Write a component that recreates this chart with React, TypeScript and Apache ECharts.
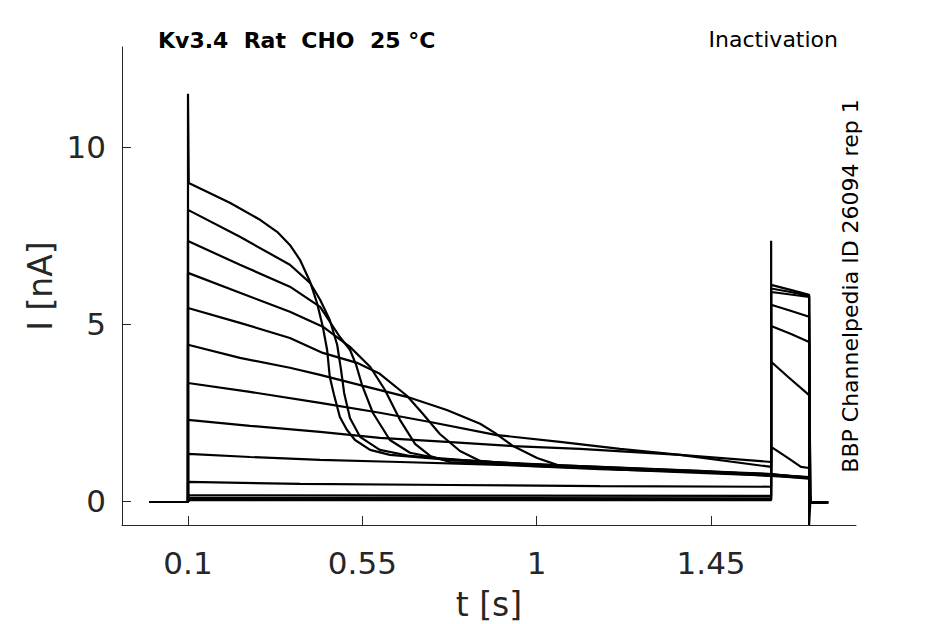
import { useEffect, useRef } from 'react';
import * as echarts from 'echarts';

// axis extents (s, nA) and tick positions
const X_MIN = -0.0703;
const X_MAX = 1.824;
const Y_MIN = -0.68;
const Y_MAX = 12.82;
const xTicks = [0.1, 0.55, 1, 1.45];
const yTicks = [0, 5, 10];

// protocol times (s)
const SWEEP_START = 0;
const PRE_ON = 0.1;
const TEST_ON = 1.605;
const TEST_OFF = 1.703;
const SWEEP_END = 1.752;
const baseBefore = -0.03;
const baseAfter = -0.04;

// prepulse currents, one list of [t, I] per sweep
const pre1 = [[0.102, 8.98], [0.208, 8.42], [0.286, 7.94], [0.33, 7.6], [0.363, 7.23], [0.389, 6.81], [0.415, 6.19], [0.433, 5.59], [0.448, 4.92], [0.459, 4.27], [0.466, 3.5], [0.477, 2.99], [0.492, 2.37], [0.51, 2.01], [0.531, 1.72], [0.57, 1.44], [0.621, 1.3], [0.776, 1.16], [1.034, 1.02], [1.292, 0.9], [1.605, 0.76]];
const pre2 = [[0.1, 8.22], [0.234, 7.46], [0.363, 6.67], [0.415, 6.16], [0.441, 5.68], [0.466, 5.11], [0.485, 4.41], [0.495, 3.7], [0.503, 3.05], [0.518, 2.34], [0.544, 1.81], [0.595, 1.44], [0.673, 1.27], [0.905, 1.07], [1.163, 0.96], [1.421, 0.85], [1.605, 0.73]];
const pre3 = [[0.1, 7.34], [0.234, 6.67], [0.363, 6.05], [0.441, 5.48], [0.492, 4.63], [0.518, 4.27], [0.534, 3.84], [0.549, 3.28], [0.577, 2.49], [0.621, 1.72], [0.673, 1.36], [0.75, 1.19], [0.957, 1.05], [1.215, 0.9], [1.421, 0.82], [1.605, 0.71]];
const pre4 = [[0.1, 6.44], [0.234, 5.88], [0.363, 5.34], [0.448, 4.92], [0.518, 4.35], [0.57, 3.79], [0.608, 3.14], [0.647, 2.29], [0.686, 1.61], [0.725, 1.27], [0.776, 1.1], [1.008, 0.99], [1.318, 0.88], [1.605, 0.73]];
const pre5 = [[0.1, 5.45], [0.234, 5.03], [0.363, 4.6], [0.448, 4.18], [0.536, 3.9], [0.595, 3.59], [0.665, 2.97], [0.706, 2.46], [0.75, 1.89], [0.802, 1.41], [0.854, 1.13], [0.983, 0.99], [1.215, 0.9], [1.421, 0.82], [1.605, 0.73]];
const pre6 = [[0.1, 4.41], [0.234, 4.04], [0.363, 3.76], [0.441, 3.56], [0.552, 3.25], [0.665, 2.94], [0.768, 2.57], [0.854, 2.18], [0.892, 1.92], [0.939, 1.55], [1.001, 1.21], [1.06, 0.99], [1.215, 0.88], [1.421, 0.79], [1.605, 0.71]];
const pre7 = [[0.1, 3.33], [0.26, 3.08], [0.441, 2.77], [0.595, 2.49], [0.725, 2.23], [0.897, 1.86], [1.06, 1.67], [1.215, 1.47], [1.37, 1.3], [1.605, 0.96]];
const pre8 = [[0.1, 2.29], [0.26, 2.12], [0.441, 1.95], [0.595, 1.78], [0.768, 1.67], [0.939, 1.55], [1.112, 1.47], [1.37, 1.3], [1.605, 1.1]];
const pre9 = [[0.1, 1.33], [0.26, 1.24], [0.441, 1.16], [0.647, 1.1], [0.905, 1.02], [1.163, 0.9], [1.421, 0.82], [1.605, 0.76]];
const pre10 = [[0.1, 0.54], [0.389, 0.48], [0.776, 0.45], [1.163, 0.42], [1.605, 0.4]];
const pre11 = [[0.1, 0.16], [0.8, 0.15], [1.605, 0.14]];
const pre12 = [[0.1, 0.08], [0.8, 0.08], [1.605, 0.07]];
const pre13 = [[0.1, 0.02], [0.8, 0.02], [1.605, 0.02]];

// test pulse currents, [t, I]
const test1 = [[1.605, 0.74], [1.655, 0.7], [1.703, 0.66]];
const test2 = [[1.605, 0.72], [1.655, 0.68], [1.703, 0.64]];
const test3 = [[1.605, 0.75], [1.655, 0.71], [1.703, 0.67]];
const test4 = [[1.605, 0.73], [1.655, 0.69], [1.703, 0.65]];
const test5 = [[1.605, 0.76], [1.655, 0.7], [1.703, 0.66]];
const test6 = [[1.605, 0.71], [1.655, 0.67], [1.703, 0.63]];
const test7 = [[1.605, 1.44], [1.609, 1.5], [1.649, 1.21], [1.682, 0.96], [1.703, 0.93]];
const test8 = [[1.605, 3.93], [1.649, 3.5], [1.703, 2.99]];
const test9 = [[1.605, 4.94], [1.655, 4.72], [1.703, 4.49]];
const test10 = [[1.605, 5.54], [1.655, 5.37], [1.703, 5.2]];
const test11 = [[1.605, 5.9], [1.655, 5.83], [1.703, 5.76]];
const test12 = [[1.605, 6.0], [1.655, 5.9], [1.703, 5.79]];
const test13 = [[1.605, 6.1], [1.655, 5.96], [1.703, 5.82]];

const prepulses = [pre1, pre2, pre3, pre4, pre5, pre6, pre7, pre8, pre9, pre10, pre11, pre12, pre13];
const testPulses = [test1, test2, test3, test4, test5, test6, test7, test8, test9, test10, test11, test12, test13];

// capacitive transients: [sweep index, peak current]
const onsetPeak = [0, 11.5];
const testPeak = [12, 7.35];
const offPeak = [12, -0.68];

function buildSweep(i: number) {
  const pts: number[][] = [[SWEEP_START, baseBefore], [PRE_ON, baseBefore]];
  if (onsetPeak[0] === i) pts.push([PRE_ON, onsetPeak[1]]);
  pts.push(...prepulses[i]);
  if (testPeak[0] === i) pts.push([TEST_ON, testPeak[1]]);
  pts.push(...testPulses[i]);
  if (offPeak[0] === i) pts.push([TEST_OFF, offPeak[1]]);
  pts.push([TEST_OFF + 0.003, baseAfter], [SWEEP_END, baseAfter]);
  return pts;
}

const FONT = '"DejaVu Sans", sans-serif';
const INK = '#262626';

export default function App() {
  const chartRef = useRef<HTMLDivElement | null>(null);

  useEffect(() => {
    if (!chartRef.current) {
      return;
    }
    const chart = echarts.init(chartRef.current, null, { renderer: 'svg' });
    const series = prepulses.map((_, i) => ({
      type: 'line',
      data: buildSweep(i),
      showSymbol: false,
      symbol: 'none',
      lineStyle: { color: '#000000', width: 2.2 },
      z: 2,
    }));
    chart.setOption({
      animation: false,
      backgroundColor: '#ffffff',
      grid: { left: 122, right: 89, top: 47, bottom: 99, containLabel: false },
      xAxis: {
        type: 'value',
        min: X_MIN,
        max: X_MAX,
        splitLine: { show: false },
        axisLine: { onZero: false, lineStyle: { color: INK, width: 1 } },
        axisTick: { inside: true, length: 9, customValues: xTicks, lineStyle: { color: INK } },
        axisLabel: { customValues: xTicks, fontSize: 31, fontFamily: FONT, color: INK, margin: 22, formatter: (v: number) => String(v) },
      },
      yAxis: {
        type: 'value',
        min: Y_MIN,
        max: Y_MAX,
        splitLine: { show: false },
        axisLine: { show: true, onZero: false, lineStyle: { color: INK, width: 1 } },
        axisTick: { show: true, inside: true, length: 9, customValues: yTicks, lineStyle: { color: INK } },
        axisLabel: { customValues: yTicks, fontSize: 31, fontFamily: FONT, color: INK, margin: 16, formatter: (v: number) => String(v) },
      },
      graphic: [
        { type: 'text', x: 158, y: 40, style: { text: 'Kv3.4  Rat  CHO  25 °C', fontSize: 22, fontWeight: 'bold', fontFamily: FONT, fill: '#000000', align: 'left', verticalAlign: 'middle' } },
        { type: 'text', x: 838, y: 39, style: { text: 'Inactivation', fontSize: 22, fontFamily: FONT, fill: '#000000', align: 'right', verticalAlign: 'middle' } },
        { type: 'text', x: 850, y: 286, rotation: Math.PI / 2, style: { text: 'BBP Channelpedia ID 26094 rep 1', fontSize: 22, fontFamily: FONT, fill: '#000000', align: 'center', verticalAlign: 'middle' } },
        { type: 'text', x: 40, y: 286, rotation: Math.PI / 2, style: { text: 'I [nA]', fontSize: 33, fontFamily: FONT, fill: INK, align: 'center', verticalAlign: 'middle' } },
        { type: 'text', x: 489, y: 604, style: { text: 't [s]', fontSize: 33, fontFamily: FONT, fill: INK, align: 'center', verticalAlign: 'middle' } },
      ],
      series,
    });
    return () => chart.dispose();
  }, []);

  return <div ref={chartRef} style={{ position: 'fixed', left: 0, top: 0, width: 945, height: 624 }} />;
}
